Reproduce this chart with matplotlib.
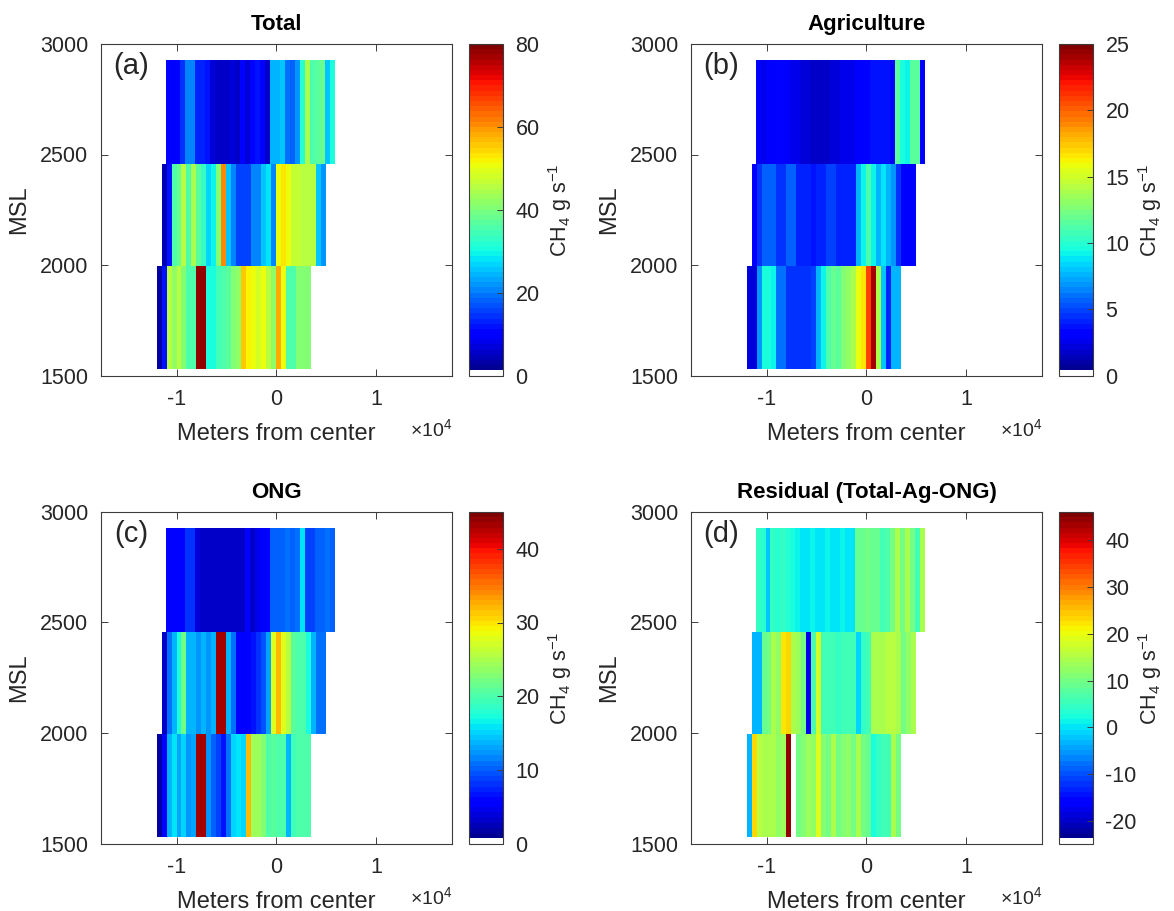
import numpy as np
import matplotlib
matplotlib.use('Agg')
import matplotlib.pyplot as plt
from matplotlib.colors import ListedColormap, Normalize
from matplotlib.ticker import FuncFormatter

plt.rcParams['font.family'] = ['Liberation Sans', 'DejaVu Sans']
plt.rcParams['mathtext.fontset'] = 'custom'
plt.rcParams['mathtext.rm'] = 'Liberation Sans'
plt.rcParams['mathtext.it'] = 'Liberation Sans:italic'
plt.rcParams['mathtext.bf'] = 'Liberation Sans:bold'
plt.rcParams['axes.unicode_minus'] = False

# flight legs: altitude edges (m MSL), west start of each leg (m from center), bin width
alt_edges = [1530, 1994, 2456, 2928]
leg_start = [-12000, -11500, -11100]      # bottom, middle, top leg
bin_width = 500

# CH4 flux per bin (g/s), west -> east
total_bot = [3, 12, 46, 42, 46, 41, 36, 36, 78, 78, 30, 31, 34, 35, 37, 40, 42, 55, 52, 50,
             48, 50, 46, 42, 58, 50, 36, 36, 40, 41, 40]
total_mid = [4, 12, 36, 38, 45, 36, 44, 37, 33, 27, 29, 40, 60, 26, 20, 15, 15, 16, 20, 21,
             26, 28, 20, 51, 53, 51, 47, 47, 46, 46, 46, 25, 22]
total_top = [10, 9, 11, 14, 20, 20, 13, 13, 12, 7, 6, 6, 6, 7, 6, 10, 7, 11, 12, 11,
             6, 24, 24, 25, 19, 18, 22, 32, 44, 36, 37, 38, 26, 31]

ag_bot = [2.0, 2.2, 7, 9.5, 9.5, 9, 6, 6, 4.5, 4.5, 4.3, 4.5, 4.5, 5, 7.5, 9, 11, 12, 11.5, 12.5,
          13, 14, 16, 16.5, 21, 24, 14, 8, 4, 7.5, 7.5]
ag_mid = [3, 4.5, 5.5, 5.5, 5.5, 4.5, 4.5, 5.5, 5.5, 4.2, 4.0, 4.2, 3.8, 4.0, 4.2, 5.0, 5.0, 4.2, 4.0, 4.0,
          4.2, 7.5, 9, 11, 9, 7.5, 8.8, 7.5, 7, 4.5, 3, 3, 3]
ag_top = [3.0, 2.5, 3.0, 3.0, 3.3, 3.3, 3.0, 2.7, 2.5, 2.2, 2.0, 1.8, 1.8, 1.8, 1.8, 2.0, 2.2, 2.5, 2.5, 2.6,
          3.0, 3.0, 3.2, 3.8, 3.8, 3.8, 3.8, 3.2, 11.5, 9.5, 9, 11.5, 11.5, 3]

ong_bot = [2, 6, 14, 16, 13, 15, 12, 13, 43, 43, 12, 10, 9, 7, 11, 15, 16, 15, 32, 24,
           24, 23, 20, 21, 20, 20, 14, 19, 20, 20, 20]
ong_mid = [3, 11, 14, 17, 22, 14, 14, 12, 14, 12, 14, 43, 43, 14, 11, 6, 5.5, 6, 6.5, 8,
           9.5, 13, 28, 32, 28, 26, 21, 20, 20, 17, 14, 11, 11]
ong_top = [6, 6, 6, 6, 8, 8, 4, 3.5, 3.5, 3.2, 3.2, 3, 3, 3, 3.2, 3.5, 6, 3, 4.5, 5,
           5, 10.5, 10.5, 10.5, 11, 10, 11, 16, 9, 8.5, 10, 10, 11, 10]

res_bot = [-3, 23, 16, 15, 15, 15, 12, 13, 44, np.nan, 10, 11, 13, 12, 19, 11, 10, 15, 10, 11,
           12, 10, 14, 10, 9, 2, 5, 6, 6, 14, 10]
res_mid = [-3, -3, 9, 10, 15, 12, 22, 23, 15, 13, 10, -18, 7, 18, 6, 5.5, 5.5, 5, 5.5, 5.5,
           6, -1, 5, 6, 14, 15, 15, 16, 16, 15, 10, 12, 15]
res_top = [4, 3, -2, 4, 3, 4, 3, 2, 1, 0.5, 0.5, 1, 0.5, 0.5, 1, 0.5, 0.5, 1, 0.5, 0.5,
           9, 9, 10, 9, 9, 6, 7, 10, 15, 10, 14, 10, 6, 14]

titles = ['Total', 'Agriculture', 'ONG', 'Residual (Total-Ag-ONG)']
letters = ['(a)', '(b)', '(c)', '(d)']
clims = [(0, 80), (0, 25), (0, 45), (-24.8, 46)]
cticks = [[0, 20, 40, 60, 80], [0, 5, 10, 15, 20, 25], [0, 10, 20, 30, 40],
          [-20, -10, 0, 10, 20, 30, 40]]
data = [[total_bot, total_mid, total_top], [ag_bot, ag_mid, ag_top],
        [ong_bot, ong_mid, ong_top], [res_bot, res_mid, res_top]]

# jet with 64 levels, lowest level white (as in the MATLAB figure)
cols = plt.cm.jet(np.linspace(0, 1, 64))
cols[0] = [1, 1, 1, 1]
cmap = ListedColormap(cols)

txt = '#262626'
edge = '#3c3c3c'

fig = plt.figure(figsize=(11.74, 9.11), dpi=100)
W, H = 1174.0, 911.0
ax_left = [100.7, 690.7, 100.7, 690.7]
cb_left = [469, 1059, 469, 1059]
ax_top = [44, 44, 512, 512]
ax_w, ax_h, cb_w = 351.6, 331.5, 34

for i in range(4):
    ax = fig.add_axes([ax_left[i] / W, 1 - (ax_top[i] + ax_h) / H, ax_w / W, ax_h / H])
    norm = Normalize(vmin=clims[i][0], vmax=clims[i][1])
    for k in range(3):
        vals = np.ma.masked_invalid(np.array(data[i][k], dtype=float))
        xe = leg_start[k] + bin_width * np.arange(len(vals) + 1)
        ye = [alt_edges[k], alt_edges[k + 1]]
        mesh = ax.pcolormesh(xe, ye, vals[None, :], cmap=cmap, norm=norm,
                             shading='flat', edgecolors='none', antialiased=False)
    ax.set_xlim(-17600, 17650)
    ax.set_ylim(1500, 3000)
    ax.set_xticks([-10000, 0, 10000])
    ax.set_yticks([1500, 2000, 2500, 3000])
    ax.xaxis.set_major_formatter(FuncFormatter(lambda v, p: '%d' % round(v / 1e4)))
    ax.tick_params(direction='in', length=5, width=0.7, top=True, right=True,
                   labelsize=15.5, colors=edge, labelcolor=txt, pad=9)
    ax.tick_params(axis='x', pad=10)
    for s in ax.spines.values():
        s.set_color(edge)
        s.set_linewidth(0.8)
    ax.set_xlabel('Meters from center', fontsize=17, color=txt, labelpad=9)
    ax.set_ylabel('MSL', fontsize=17, color=txt, labelpad=7)
    ax.set_title(titles[i], fontsize=16, fontweight='bold', color='black', pad=10)
    ax.text(0.086, 0.935, letters[i], transform=ax.transAxes, fontsize=21,
            ha='center', va='center', color=txt)
    ax.text(1.0, -0.184, r'$\times$10$^4$', transform=ax.transAxes, fontsize=14,
            ha='right', va='baseline', color=txt)

    cax = fig.add_axes([cb_left[i] / W, 1 - (ax_top[i] + ax_h) / H, cb_w / W, ax_h / H])
    cb = fig.colorbar(mesh, cax=cax, ticks=cticks[i])
    cb.outline.set_edgecolor(edge)
    cb.outline.set_linewidth(0.8)
    cax.tick_params(direction='in', length=4, width=0.7, labelsize=15.5,
                    colors=edge, labelcolor=txt, pad=9)
    cb.set_label(r'CH$_4$ g s$^{-1}$', fontsize=15.5, color=txt)
    cax.yaxis.set_label_coords(2.68, 0.5)
    cax.yaxis.label.set_verticalalignment('center')

fig.savefig('out.png', dpi=100, facecolor='white')
